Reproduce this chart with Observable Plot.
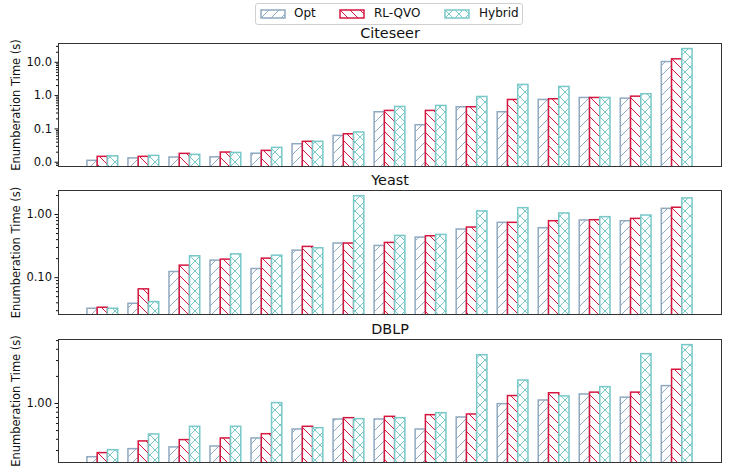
<!DOCTYPE html>
<html><head><meta charset="utf-8">
<script src="https://cdn.jsdelivr.net/npm/d3@7"></script>
<script src="https://cdn.jsdelivr.net/npm/@observablehq/plot@0.6"></script>
<style>
body{margin:0;background:#fff;font-family:"DejaVu Sans",sans-serif;}
#wrap{position:relative;width:747px;height:476px;overflow:hidden;}
.panel{position:absolute;left:0;}
#legend{position:absolute;left:255px;top:3px;width:266px;height:20px;border:1px solid #d0d0d0;border-radius:3px;background:#fff;font-size:12px;color:#111;}
#legend .sw{position:absolute;top:5px;}
#legend .lab{position:absolute;top:2px;line-height:15px;}
</style></head>
<body>
<svg width="0" height="0" style="position:absolute">
  <defs>
    <pattern id="pat0" patternUnits="userSpaceOnUse" width="10" height="10">
      <rect width="10" height="10" fill="#fff"/>
      <path d="M0,10L10,0M-2,2L2,-2M8,12L12,8" stroke="#8fa9c0" stroke-width="1"/>
    </pattern>
    <pattern id="pat1" patternUnits="userSpaceOnUse" width="10" height="10">
      <rect width="10" height="10" fill="#fff"/>
      <path d="M0,0L10,10M-2,8L2,12M8,-2L12,2" stroke="#d6163f" stroke-width="1"/>
    </pattern>
    <pattern id="pat2" patternUnits="userSpaceOnUse" width="10" height="10">
      <rect width="10" height="10" fill="#fff"/>
      <path d="M0,10L10,0M-2,2L2,-2M8,12L12,8M0,0L10,10M-2,8L2,12M8,-2L12,2" stroke="#78c8c8" stroke-width="1"/>
    </pattern>
  </defs>
</svg>
<div id="wrap"><div id="legend"></div></div>
<script>
// ---- data ----
const seriesNames = ["Opt", "RL-QVO", "Hybrid"];
const seriesColors = ["#8fa9c0", "#d6163f", "#78c8c8"];
const panelTitles = ["Citeseer", "Yeast", "DBLP"];
const yLabel = "Enumberation Time (s)";

const citeseerOpt = [0.011, 0.013, 0.0138, 0.014, 0.018, 0.0347, 0.0617, 0.316, 0.129, 0.447, 0.316, 0.74, 0.85, 0.81, 10.2];
const citeseerRL  = [0.0145, 0.0145, 0.0178, 0.0195, 0.0219, 0.041, 0.069, 0.347, 0.347, 0.447, 0.74, 0.776, 0.85, 0.93, 12.3];
const citeseerHyb = [0.015, 0.0155, 0.0166, 0.019, 0.027, 0.041, 0.078, 0.457, 0.49, 0.91, 2.09, 1.82, 0.85, 1.1, 25];

const yeastOpt = [0.0322, 0.0386, 0.123, 0.186, 0.137, 0.268, 0.347, 0.318, 0.431, 0.578, 0.738, 0.607, 0.804, 0.783, 1.23];
const yeastRL  = [0.0334, 0.0653, 0.155, 0.193, 0.200, 0.307, 0.347, 0.355, 0.453, 0.622, 0.738, 0.783, 0.813, 0.853, 1.28];
const yeastHyb = [0.0322, 0.041, 0.218, 0.234, 0.223, 0.292, 1.95, 0.458, 0.475, 1.12, 1.26, 1.04, 0.908, 0.963, 1.80];

const dblpOpt = [0.253, 0.311, 0.325, 0.333, 0.409, 0.514, 0.664, 0.664, 0.514, 0.699, 0.983, 1.08, 1.26, 1.16, 1.56];
const dblpRL  = [0.281, 0.379, 0.392, 0.409, 0.456, 0.551, 0.687, 0.711, 0.742, 0.755, 1.21, 1.30, 1.32, 1.32, 2.37];
const dblpHyb = [0.303, 0.453, 0.551, 0.551, 1.01, 0.532, 0.670, 0.687, 0.781, 3.44, 1.80, 1.20, 1.52, 3.53, 4.45];

const citeseerTicks = [0.01, 0.1, 1, 10];
const yeastTicks = [0.1, 1];
const dblpTicks = [1];

// ---- layout ----
const barW = 0.25;
const font = "DejaVu Sans";

function minorTicks(domain) {
  const out = [];
  for (let k = -4; k <= 3; k++) for (let m = 2; m <= 9; m++) {
    const v = m * Math.pow(10, k);
    if (v > domain[0] && v < domain[1]) out.push(v);
  }
  return out;
}

function panel({title, values, domain, ticks, fmt, top, height, mt, mb, titleDy}) {
  const floor = domain[0] / 100;
  const marks = [];
  values.forEach((vals, si) => {
    const rows = vals.map((v, i) => ({i, v}));
    marks.push(Plot.rect(rows, {
      x1: d => d.i + (si - 1) * barW - barW / 2,
      x2: d => d.i + (si - 1) * barW + barW / 2,
      y1: () => floor,
      y2: "v",
      fill: `url(#pat${si})`,
      stroke: seriesColors[si],
      strokeWidth: 1.5,
      clip: true
    }));
  });
  marks.push(Plot.frame({stroke: "#333", strokeWidth: 1}));
  marks.push(Plot.axisY({ticks: minorTicks(domain), tickSize: 2, tickFormat: () => "", label: null}));
  marks.push(Plot.axisY({ticks, tickSize: 3.5, tickPadding: 3, tickFormat: fmt, fontSize: 11.5,
    label: yLabel, labelAnchor: "center", labelArrow: "none", labelOffset: 47}));
  marks.push(Plot.text([title], {frameAnchor: "top", text: d => d, dy: titleDy, lineAnchor: "middle",
    fontSize: 14.4, fill: "#111"}));
  const chart = Plot.plot({
    width: 747, height,
    marginLeft: 58, marginRight: 26, marginTop: mt, marginBottom: mb,
    style: {fontFamily: font, fontSize: "11.5px", color: "#111", background: "transparent", overflow: "visible"},
    x: {type: "linear", domain: [-1.08, 15.08], axis: null},
    y: {type: "log", domain, axis: null},
    marks
  });
  chart.classList.add("panel");
  chart.style.top = top + "px";
  document.getElementById("wrap").appendChild(chart);
}

panel({title: panelTitles[0], values: [citeseerOpt, citeseerRL, citeseerHyb], domain: [0.00743, 36.7],
  ticks: citeseerTicks, fmt: d3.format(".1f"), top: 27, height: 149, mt: 16, mb: 10, titleDy: -10});
panel({title: panelTitles[1], values: [yeastOpt, yeastRL, yeastHyb], domain: [0.0261, 2.40],
  ticks: yeastTicks, fmt: d3.format(".2f"), top: 176, height: 149, mt: 14, mb: 11, titleDy: -10});
panel({title: panelTitles[2], values: [dblpOpt, dblpRL, dblpHyb], domain: [0.221, 5.14],
  ticks: dblpTicks, fmt: d3.format(".2f"), top: 325, height: 151, mt: 14, mb: 14, titleDy: -10});

// ---- legend ----
const legend = document.getElementById("legend");
const swX = [4, 83, 188];
const labX = [38, 118, 223];
seriesNames.forEach((name, si) => {
  const sw = document.createElementNS("http://www.w3.org/2000/svg", "svg");
  sw.setAttribute("class", "sw");
  sw.setAttribute("width", 26); sw.setAttribute("height", 10);
  sw.style.left = swX[si] + "px";
  const r = document.createElementNS("http://www.w3.org/2000/svg", "rect");
  r.setAttribute("x", 1); r.setAttribute("y", 1); r.setAttribute("width", 24); r.setAttribute("height", 8);
  r.setAttribute("fill", `url(#pat${si})`); r.setAttribute("stroke", seriesColors[si]); r.setAttribute("stroke-width", 1.5);
  sw.appendChild(r);
  legend.appendChild(sw);
  const t = document.createElement("span");
  t.className = "lab"; t.textContent = name; t.style.left = labX[si] + "px";
  legend.appendChild(t);
});
</script>
</body></html>
